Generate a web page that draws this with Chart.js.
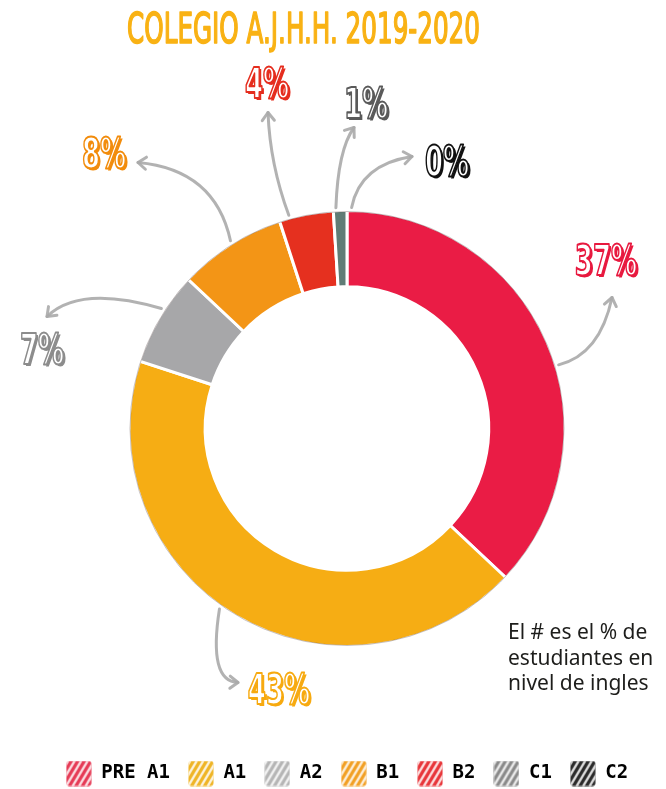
<!DOCTYPE html>
<html>
<head>
<meta charset="utf-8">
<title>COLEGIO A.J.H.H. 2019-2020</title>
<script src="https://cdn.jsdelivr.net/npm/chart.js@4.4.1/dist/chart.umd.min.js"></script>
<style>
  html, body { margin: 0; padding: 0; background: #ffffff; }
  #wrap { position: relative; width: 666px; height: 789px; }
</style>
</head>
<body>
<div id="wrap"><canvas id="chart" width="666" height="789"></canvas></div>
<script>
// ---- data ----
const chartTitle = 'COLEGIO A.J.H.H. 2019-2020';
const levels = ['PRE A1', 'A1', 'A2', 'B1', 'B2', 'C1', 'C2'];
const shares = [37, 43, 7, 8, 4, 1, 0];
const noteLines = ['El # es el % de', 'estudiantes en', 'nivel de ingles'];

// ---- colours ----
const sliceColors  = ['#ea1c45', '#f6ad14', '#a7a7a9', '#f39516', '#e5301f', '#607c76', '#1e1e1e'];
const swatchColors = ['#e63a55', '#efb526', '#b5b5b5', '#f2a024', '#e8363a', '#8a8a8a', '#2a2a2a'];
const badgeColors  = ['#e8193f', '#f7aa10', '#8c8c8c', '#f28c0c', '#e52d1e', '#5a5a5a', '#111111'];

// Callout layout per slice: where the arrow leaves the ring (fraction along the arc,
// plus an angular nudge in degrees), and offsets from the ring centre for the
// arrow's bend, its tip and the percentage badge.
const callouts = [
  { t: 0.55, shift: 0,   ctrl: [253, -74],   tip: [265, -131],  text: [259, -169] },
  { t: 0.53, shift: 0,   ctrl: [-139, 253],  tip: [-109, 254],  text: [-68, 260] },
  { t: 0.59, shift: 0,   ctrl: [-267, -144], tip: [-300, -112], text: [-305, -80] },
  { t: 0.52, shift: 0,   ctrl: [-132, -259], tip: [-209, -266], text: [-243, -276] },
  { t: 0.19, shift: 0,   ctrl: [-77, -264],  tip: [-79, -316],  text: [-80, -346] },
  { t: 0.2,  shift: 0,   ctrl: [-9, -279],   tip: [7, -301],    text: [19, -326] },
  { t: 0,    shift: 1.2, ctrl: [13, -264],   tip: [65, -272],   text: [100, -268] }
];

// Hatched legend swatches
function makeSwatch(color) {
  const s = 26;
  const cv = document.createElement('canvas');
  cv.width = s; cv.height = s;
  const g = cv.getContext('2d');
  g.beginPath();
  g.roundRect(0.5, 0.5, s - 1, s - 1, 3);
  g.fillStyle = color;
  g.fill();
  g.save();
  g.clip();
  g.strokeStyle = 'rgba(255,255,255,0.85)';
  g.lineWidth = 2.4;
  for (let k = -s; k < 2 * s; k += 6.5) {
    g.beginPath();
    g.moveTo(k, s);
    g.lineTo(k + s * 0.6, 0);
    g.stroke();
  }
  g.restore();
  return cv;
}
const swatches = swatchColors.map(makeSwatch);

function drawBadge(ctx, text, x, y, color) {
  ctx.save();
  ctx.translate(x, y);
  ctx.scale(0.62, 1);
  ctx.font = 'bold 42px "DejaVu Sans"';
  ctx.textAlign = 'center';
  ctx.textBaseline = 'alphabetic';
  const base = 15;
  ctx.fillStyle = color;
  ctx.fillText(text, 3.5, base + 2.5);
  ctx.fillStyle = '#ffffff';
  ctx.fillText(text, 0, base);
  ctx.lineJoin = 'round';
  ctx.lineWidth = 2.2;
  ctx.strokeStyle = color;
  ctx.strokeText(text, 0, base);
  ctx.restore();
}

function drawArrow(ctx, sx, sy, cx, cy, ex, ey) {
  ctx.save();
  ctx.lineCap = 'round';
  ctx.lineJoin = 'round';
  ctx.strokeStyle = 'rgba(170,170,170,0.9)';
  ctx.lineWidth = 3;
  ctx.beginPath();
  ctx.moveTo(sx, sy);
  ctx.quadraticCurveTo(cx, cy, ex, ey);
  ctx.stroke();
  const ang = Math.atan2(ey - cy, ex - cx);
  const len = 10, spread = 0.65;
  ctx.beginPath();
  ctx.moveTo(ex - len * Math.cos(ang - spread), ey - len * Math.sin(ang - spread));
  ctx.lineTo(ex, ey);
  ctx.lineTo(ex - len * Math.cos(ang + spread), ey - len * Math.sin(ang + spread));
  ctx.stroke();
  ctx.restore();
}

const decorations = {
  id: 'decorations',
  afterDatasetsDraw(chart) {
    const ctx = chart.ctx;
    const arcs = chart.getDatasetMeta(0).data;
    const ds = chart.data.datasets[0].data;

    // faint sketch outline round the ring
    if (arcs.length) {
      const a0 = arcs[0];
      ctx.save();
      ctx.strokeStyle = 'rgba(70,50,50,0.3)';
      ctx.lineWidth = 1;
      ctx.beginPath();
      ctx.arc(a0.x, a0.y, a0.outerRadius - 1, 0, Math.PI * 2);
      ctx.stroke();
      ctx.restore();
    }

    arcs.forEach((arc, i) => {
      const c = callouts[i];
      const { x, y, startAngle, endAngle, outerRadius } =
        arc.getProps(['x', 'y', 'startAngle', 'endAngle', 'outerRadius'], true);
      const a = startAngle + c.t * (endAngle - startAngle) + c.shift * Math.PI / 180;
      const sx = x + Math.cos(a) * (outerRadius + 3);
      const sy = y + Math.sin(a) * (outerRadius + 3);
      drawArrow(ctx, sx, sy, x + c.ctrl[0], y + c.ctrl[1], x + c.tip[0], y + c.tip[1]);
      drawBadge(ctx, ds[i] + '%', x + c.text[0], y + c.text[1], badgeColors[i]);
    });

    // title
    ctx.save();
    ctx.font = '43px "DejaVu Sans Condensed", "DejaVu Sans"';
    const w = ctx.measureText(chartTitle).width;
    ctx.translate(303.5, 43);
    ctx.scale(353 / w, 1);
    ctx.fillStyle = '#f9b214';
    ctx.strokeStyle = '#f9b214';
    ctx.lineWidth = 1.6;
    ctx.lineJoin = 'round';
    ctx.textAlign = 'center';
    ctx.textBaseline = 'alphabetic';
    ctx.fillText(chartTitle, 0, 0);
    ctx.strokeText(chartTitle, 0, 0);
    ctx.restore();

    // side note
    ctx.save();
    ctx.font = '21px "Noto Sans"';
    ctx.fillStyle = '#1d1d1b';
    ctx.textAlign = 'left';
    ctx.textBaseline = 'alphabetic';
    noteLines.forEach((line, k) => ctx.fillText(line, 508, 639 + k * 25.5));
    ctx.restore();
  }
};

new Chart(document.getElementById('chart'), {
  type: 'doughnut',
  data: {
    labels: levels,
    datasets: [{
      data: shares,
      backgroundColor: sliceColors,
      borderColor: '#ffffff',
      borderWidth: 3
    }]
  },
  options: {
    responsive: false,
    animation: false,
    events: [],
    radius: 218,
    cutout: '65%',
    layout: { padding: { top: 111, left: 28, right: 0, bottom: -4 } },
    plugins: {
      tooltip: { enabled: false },
      title: { display: false },
      legend: {
        position: 'bottom',
        labels: {
          usePointStyle: true,
          pointStyleWidth: 26,
          padding: 18,
          color: '#222222',
          font: { family: '"DejaVu Sans Mono"', weight: 'bold', size: 19 },
          generateLabels: () => levels.map((name, i) => ({
            text: name,
            pointStyle: swatches[i],
            fillStyle: swatchColors[i],
            strokeStyle: 'transparent',
            lineWidth: 0,
            hidden: false,
            index: i,
            datasetIndex: 0
          }))
        }
      }
    }
  },
  plugins: [decorations]
});
</script>
</body>
</html>
